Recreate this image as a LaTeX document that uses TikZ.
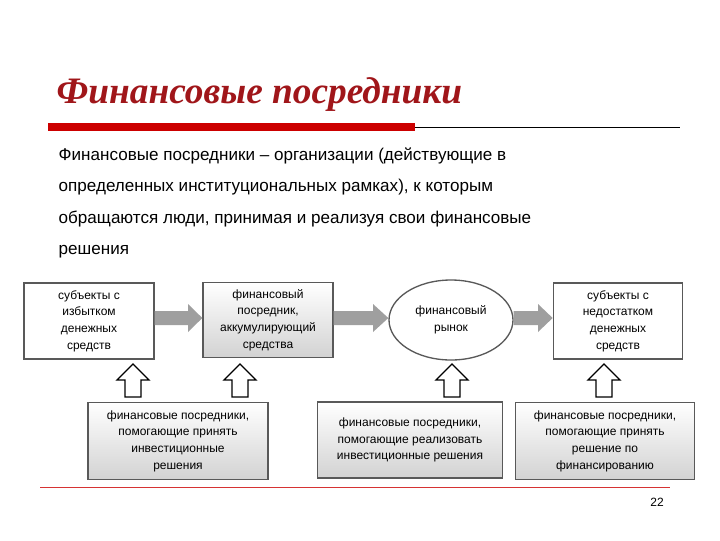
\documentclass[tikz,border=0pt]{standalone}
\usepackage{fontspec}
\setmainfont{Liberation Sans}
\newfontfamily\titlefont{Liberation Serif}
\usetikzlibrary{shapes.geometric}
\definecolor{tred}{HTML}{A0161A}
\definecolor{bred}{HTML}{CC0000}
\tikzset{
 px/.style={x=0.75pt,y=-0.75pt},
 wbox/.style={draw=gray!70!black,line width=1pt,fill=white,align=center,font=\fontsize{9}{12.5}\selectfont,inner sep=2pt},
 gbox/.style={wbox,top color=white,bottom color=gray!35},
 flowfill/.style={fill=gray!75},
 upfill/.style={draw=black,line width=1pt,fill=white}
}
\begin{document}
\begin{tikzpicture}[px]
\useasboundingbox (0,0) rectangle (720,540);
\node[anchor=base west,text=tred,font=\titlefont\bfseries\itshape\fontsize{28}{30}\selectfont] (title) at (52,103) {Финансовые посредники};
\fill[bred] (48,123) rectangle (415,131);
\draw[line width=0.6pt] (415,127) -- (680,127);
\node[anchor=north west,align=left,font=\fontsize{12.8}{23.6}\selectfont] (para) at (54,143) {Финансовые посредники – организации (действующие в\\определенных институциональных рамках), к которым\\обращаются люди, принимая и реализуя свои финансовые\\решения};
\node[wbox,minimum width=97.5pt,minimum height=57pt] (b1) at (89,321) {субъекты с\\избытком\\денежных\\средств};
\node[gbox,minimum width=97.5pt,minimum height=56pt] (b2) at (268,320) {финансовый\\посредник,\\аккумулирующий\\средства};
\node[ellipse,draw=gray!70!black,line width=1pt,fill=white,minimum width=93pt,minimum height=60pt,font=\fontsize{9}{12.5}\selectfont,align=center] (b3) at (451,320) {финансовый\\рынок};
\node[wbox,minimum width=97pt,minimum height=57pt] (b4) at (618,321) {субъекты с\\недостатком\\денежных\\средств};
% flow arrows
\fill[flowfill] (b1.east |- 0,311) -- (188,311) -- (188,304) -- (b2.west |- 0,318) -- (188,332) -- (188,325) -- (b1.east |- 0,325) -- cycle;
\fill[flowfill] (b2.east |- 0,311) -- (373,311) -- (373,304) -- (b3.west |- 0,318) -- (373,332) -- (373,325) -- (b2.east |- 0,325) -- cycle;
\fill[flowfill] (b3.east |- 0,311) -- (538,311) -- (538,304) -- (b4.west |- 0,318) -- (538,332) -- (538,325) -- (b3.east |- 0,325) -- cycle;
\node[gbox,minimum width=135pt,minimum height=58pt] (c1) at (178,441) {финансовые посредники,\\помогающие принять\\инвестиционные\\решения};
\node[gbox,minimum width=139pt,minimum height=57pt] (c2) at (410,440) {финансовые посредники,\\помогающие реализовать\\инвестиционные решения};
\node[gbox,minimum width=134pt,minimum height=58pt] (c3) at (605,441) {финансовые посредники,\\помогающие принять\\решение по\\финансированию};
\foreach \x/\n in {133/u1,240/u2,452/u3,604/u4}{
 \draw[upfill] (\x-8,397) -- (\x-8,380) -- (\x-16,380) -- (\x,364) -- (\x+16,380) -- (\x+8,380) -- (\x+8,397) -- cycle;
 \coordinate (\n) at (\x,380);
}
\draw[bred!80,line width=0.6pt] (40,487) -- (670,487);
\node[font=\fontsize{9}{11}\selectfont] (pg) at (657,502) {22};
\end{tikzpicture}
\end{document}
